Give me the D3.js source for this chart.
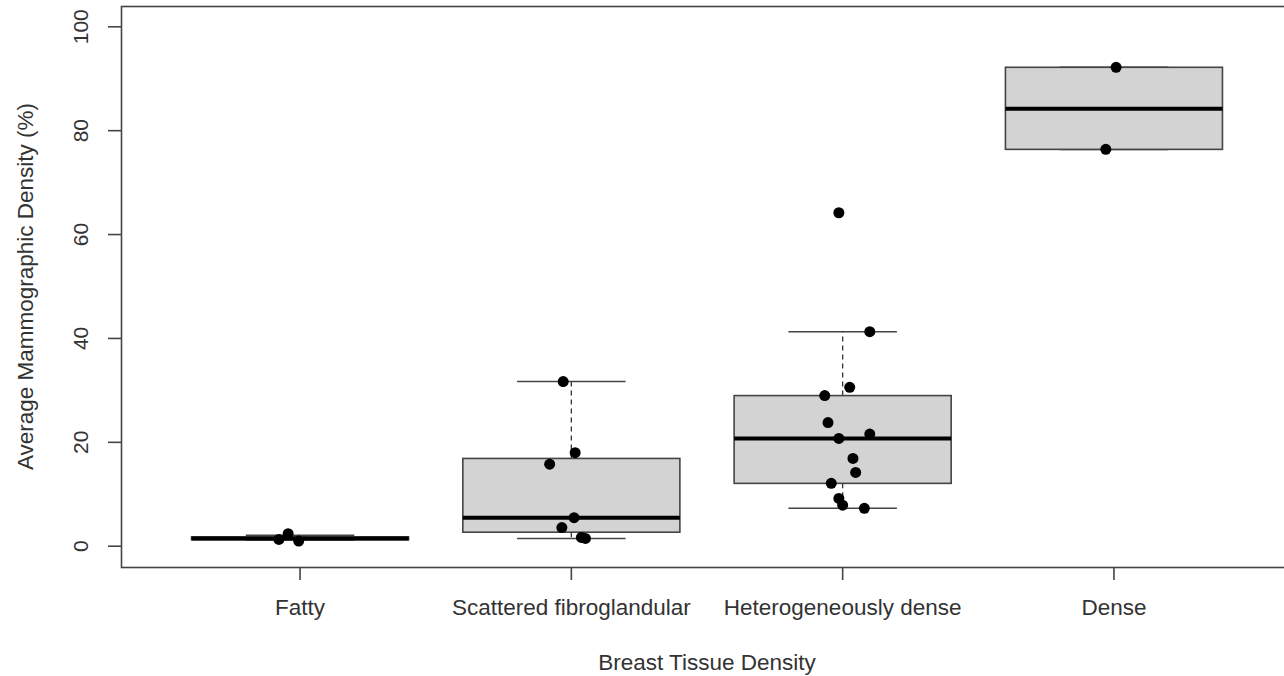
<!DOCTYPE html>
<html>
<head>
<meta charset="utf-8">
<script src="https://cdn.jsdelivr.net/npm/d3@7"></script>
<style>
  body { margin: 0; background: #fff; }
  text { font-family: "Liberation Sans", Arial, sans-serif; fill: #333; }
</style>
</head>
<body>
<div id="chart"></div>
<script>
// categories and box statistics
const categories = ["Fatty", "Scattered fibroglandular", "Heterogeneously dense", "Dense"];
const lowerWhisker = [1.2, 1.5, 7.3, 76.4];
const lowerHinge   = [1.25, 2.7, 12.1, 76.4];
const medians      = [1.5, 5.5, 20.75, 84.2];
const upperHinge   = [1.8, 16.9, 29.0, 92.2];
const upperWhisker = [2.1, 31.7, 41.3, 92.2];

// jittered observations: group index, jitter (category units), value
const pointGroup  = [0, 0, 0,  1, 1, 1, 1, 1, 1, 1,  2, 2, 2, 2, 2, 2, 2, 2, 2, 2, 2, 2, 2,  3, 3];
const pointJitter = [-0.078, -0.044, -0.005,
                     -0.03, 0.014, -0.08, 0.01, -0.035, 0.037, 0.052,
                     0.10, 0.026, -0.066, -0.054, 0.10, -0.014, 0.038, 0.048, -0.042, -0.014, 0.0, 0.08, -0.014,
                     0.008, -0.03];
const pointValue  = [1.3, 2.4, 1.0,
                     31.7, 18.0, 15.8, 5.5, 3.6, 1.7, 1.5,
                     41.3, 30.6, 29.0, 23.8, 21.6, 20.75, 16.9, 14.2, 12.1, 9.2, 7.9, 7.3, 64.2,
                     92.2, 76.4];

const yTicks = [0, 20, 40, 60, 80, 100];

const width = 1284;
const height = 676;
const plotLeft = 121, plotTop = 6, plotBottom = 567, plotRight = 1293;

const svg = d3.select("#chart").append("svg")
  .attr("width", width)
  .attr("height", height);

// R style: 1..n with 4% extension of [0.5, n+0.5]
const xScale = d3.scaleLinear().domain([0.34, 4.66]).range([plotLeft, plotRight]);
const yScale = d3.scaleLinear().domain([-4, 104]).range([plotBottom, plotTop]);
const unit = xScale(2) - xScale(1);
const boxW = unit * 0.8;
const stapleW = unit * 0.4;

const boxes = svg.append("g");
categories.forEach(function (c, i) {
  const cx = xScale(i + 1);
  const g = boxes.append("g");
  // whiskers (dashed)
  g.append("line")
    .attr("x1", cx).attr("x2", cx)
    .attr("y1", yScale(upperHinge[i])).attr("y2", yScale(upperWhisker[i]))
    .attr("stroke", "#333").attr("stroke-width", 1.3).attr("stroke-dasharray", "5,4");
  g.append("line")
    .attr("x1", cx).attr("x2", cx)
    .attr("y1", yScale(lowerHinge[i])).attr("y2", yScale(lowerWhisker[i]))
    .attr("stroke", "#333").attr("stroke-width", 1.3).attr("stroke-dasharray", "5,4");
  // staples
  [upperWhisker[i], lowerWhisker[i]].forEach(function (v) {
    g.append("line")
      .attr("x1", cx - stapleW / 2).attr("x2", cx + stapleW / 2)
      .attr("y1", yScale(v)).attr("y2", yScale(v))
      .attr("stroke", "#444").attr("stroke-width", 1.6);
  });
  // box
  g.append("rect")
    .attr("x", cx - boxW / 2)
    .attr("y", yScale(upperHinge[i]))
    .attr("width", boxW)
    .attr("height", Math.max(yScale(lowerHinge[i]) - yScale(upperHinge[i]), 0.5))
    .attr("fill", "#d3d3d3")
    .attr("stroke", "#444").attr("stroke-width", 1.6);
  // median
  g.append("line")
    .attr("x1", cx - boxW / 2).attr("x2", cx + boxW / 2)
    .attr("y1", yScale(medians[i])).attr("y2", yScale(medians[i]))
    .attr("stroke", "#000").attr("stroke-width", 4);
});

// points
svg.append("g").selectAll("circle")
  .data(pointValue)
  .enter()
  .append("circle")
  .attr("cx", (d, i) => xScale(pointGroup[i] + 1 + pointJitter[i]))
  .attr("cy", d => yScale(d))
  .attr("r", 5.5)
  .attr("fill", "#000");

// frame (right side runs off the picture)
svg.append("rect")
  .attr("x", plotLeft + 0.5).attr("y", plotTop + 0.5)
  .attr("width", plotRight - plotLeft).attr("height", plotBottom - plotTop)
  .attr("fill", "none").attr("stroke", "#444").attr("stroke-width", 1.6);

// AXES
const yAxis = svg.append("g");
yTicks.forEach(function (t) {
  const y = yScale(t);
  yAxis.append("line")
    .attr("x1", plotLeft - 13).attr("x2", plotLeft)
    .attr("y1", y).attr("y2", y)
    .attr("stroke", "#444").attr("stroke-width", 1.6);
  yAxis.append("text")
    .attr("transform", "translate(88," + y + ") rotate(-90)")
    .attr("text-anchor", "middle")
    .style("font-size", "21px")
    .text(t);
});

const xAxis = svg.append("g");
categories.forEach(function (c, i) {
  const x = xScale(i + 1);
  xAxis.append("line")
    .attr("x1", x).attr("x2", x)
    .attr("y1", plotBottom).attr("y2", plotBottom + 13)
    .attr("stroke", "#444").attr("stroke-width", 1.6);
  xAxis.append("text")
    .attr("x", x).attr("y", 615)
    .attr("text-anchor", "middle")
    .style("font-size", "22.5px")
    .text(c);
});

svg.append("text")
  .attr("x", (plotLeft + plotRight) / 2).attr("y", 670)
  .attr("text-anchor", "middle")
  .style("font-size", "22.5px")
  .text("Breast Tissue Density");

svg.append("text")
  .attr("transform", "translate(33," + (plotTop + plotBottom) / 2 + ") rotate(-90)")
  .attr("text-anchor", "middle")
  .style("font-size", "22.5px")
  .text("Average Mammographic Density (%)");
</script>
</body>
</html>
